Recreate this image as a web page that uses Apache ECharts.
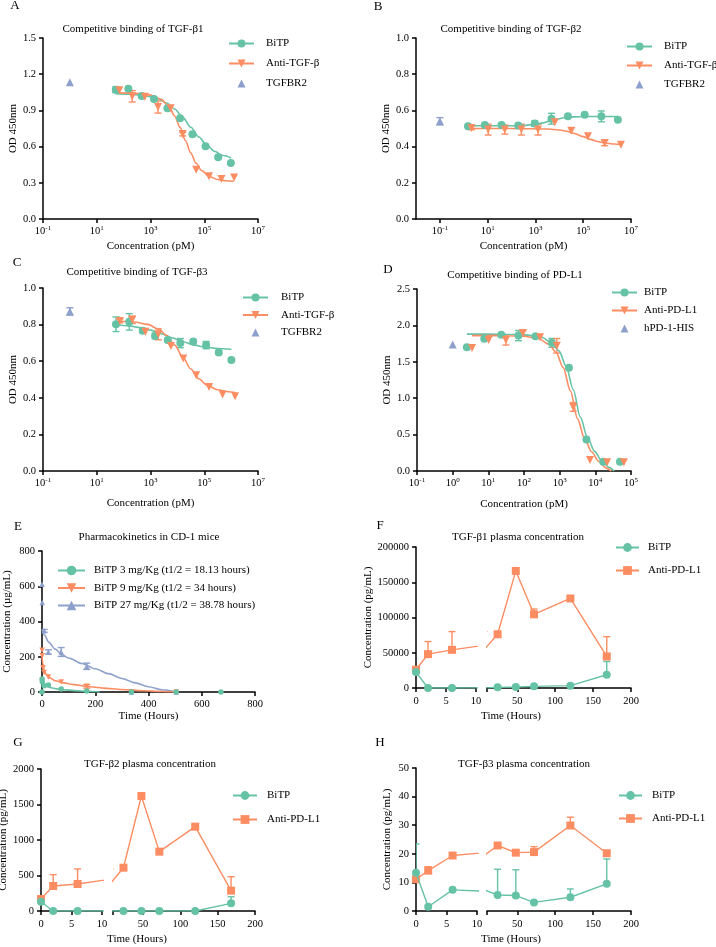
<!DOCTYPE html>
<html>
<head>
<meta charset="utf-8">
<script src="https://cdn.jsdelivr.net/npm/echarts@6/dist/echarts.min.js"></script>
<style>
  html, body { margin: 0; padding: 0; background: #fff; }
  #figure { width: 716px; height: 947px; }
</style>
</head>
<body>
<div id="figure"></div>
<script>
const GREEN = '#66c2a5', ORANGE = '#fc8d62', BLUE = '#8da0cb';
const FONT = 'Liberation Serif';
const DOWN = 'path://M0,0L10,0L5,8.66Z'; // inverted triangle

// ---------- A: TGF-β1 binding (pM vs OD) ----------
const aBitpConc = [51, 150, 470, 1350, 4270, 12600, 36300, 112000, 331000, 977000];
const aBitpOD = [1.072, 1.080, 1.019, 0.994, 0.917, 0.834, 0.702, 0.602, 0.511, 0.464];
const aBitpSD = [0.025, 0, 0, 0, 0, 0, 0, 0, 0.01, 0];
const aAntiConc = [69, 209, 617, 1905, 5620, 15800, 50100, 151000, 437000, 1290000];
const aAntiOD = [1.066, 1.017, 1.014, 0.928, 0.917, 0.704, 0.409, 0.354, 0.331, 0.343];
const aAntiSD = [0, 0.047, 0, 0.05, 0, 0.015, 0, 0, 0, 0];
const aBitpFitConc = [50, 158, 501, 1000, 1995, 3981, 7943, 15850, 31620, 63100, 125900, 251200, 501200, 1000000];
const aBitpFitOD = [1.038, 1.034, 1.025, 1.014, 0.994, 0.961, 0.911, 0.842, 0.760, 0.679, 0.609, 0.559, 0.526, 0.506];
const aAntiFitConc = [69, 200, 631, 1259, 2512, 5012, 7943, 12590, 19950, 31620, 50120, 79430, 158500, 316200, 631000, 1259000];
const aAntiFitOD = [1.045, 1.043, 1.035, 1.022, 0.991, 0.926, 0.854, 0.759, 0.650, 0.546, 0.462, 0.402, 0.350, 0.327, 0.317, 0.313];
const aRecConc = [1], aRecOD = [1.133], aRecSD = [0];

// ---------- B: TGF-β2 binding ----------
const bBitpConc = [1.5, 7.6, 38, 190, 933, 4680, 22900, 115000, 575000, 2820000];
const bBitpOD = [0.512, 0.519, 0.519, 0.516, 0.527, 0.554, 0.567, 0.576, 0.567, 0.549];
const bBitpSD = [0, 0, 0, 0, 0.015, 0.03, 0, 0, 0.03, 0];
const bAntiConc = [2.1, 10.5, 52, 257, 1290, 6460, 31600, 158000, 794000, 3800000];
const bAntiOD = [0.503, 0.494, 0.494, 0.494, 0.494, 0.534, 0.488, 0.457, 0.420, 0.410];
const bAntiSD = [0.01, 0.03, 0.025, 0.03, 0.03, 0, 0, 0, 0.015, 0];
const bBitpFitConc = [1.5, 10, 100, 316, 1000, 1995, 3981, 7943, 15850, 39810, 100000, 316200, 1000000, 2818000];
const bBitpFitOD = [0.515, 0.515, 0.515, 0.517, 0.523, 0.531, 0.541, 0.551, 0.559, 0.564, 0.566, 0.566, 0.566, 0.566];
const bAntiFitConc = [2.1, 100, 3162, 10000, 19950, 39810, 100000, 199500, 398100, 794300, 1995000, 3802000];
const bAntiFitOD = [0.500, 0.500, 0.497, 0.492, 0.485, 0.474, 0.455, 0.440, 0.428, 0.420, 0.414, 0.412];
const bRecConc = [0.1], bRecOD = [0.540], bRecSD = [0.02];

// ---------- C: TGF-β3 binding ----------
const cBitpConc = [52, 162, 513, 1480, 4370, 12900, 38900, 117500, 347000, 1020000];
const cBitpOD = [0.802, 0.815, 0.767, 0.738, 0.716, 0.699, 0.708, 0.688, 0.648, 0.606];
const cBitpSD = [0.04, 0.045, 0.01, 0.015, 0, 0.025, 0, 0.02, 0.01, 0];
const cAntiConc = [72, 209, 646, 1950, 5750, 16600, 50100, 151000, 479000, 1410000];
const cAntiOD = [0.820, 0.826, 0.761, 0.747, 0.683, 0.615, 0.523, 0.459, 0.418, 0.409];
const cAntiSD = [0.01, 0.02, 0, 0.03, 0, 0, 0, 0, 0, 0];
const cBitpFitConc = [52, 158, 398, 1000, 2512, 6310, 15850, 39810, 100000, 316200, 1023000];
const cBitpFitOD = [0.799, 0.793, 0.784, 0.770, 0.750, 0.728, 0.706, 0.689, 0.678, 0.669, 0.665];
const cAntiFitConc = [72, 251, 794, 1995, 3981, 7943, 15850, 31620, 63100, 125900, 316200, 794300, 1413000];
const cAntiFitOD = [0.818, 0.814, 0.801, 0.776, 0.741, 0.688, 0.623, 0.557, 0.504, 0.469, 0.444, 0.433, 0.429];
const cRecConc = [1], cRecOD = [0.872], cRecSD = [0.02];

// ---------- D: PD-L1 binding ----------
const dBitpConc = [2.5, 7.7, 23, 70, 209, 603, 1820, 5620, 16600, 49000];
const dBitpOD = [1.70, 1.818, 1.873, 1.86, 1.85, 1.76, 1.418, 0.432, 0.128, 0.128];
const dBitpSD = [0, 0, 0, 0.07, 0, 0.06, 0, 0, 0, 0];
const dAntiConc = [3.5, 10.2, 31, 93, 282, 832, 2400, 7080, 21400, 63100];
const dAntiOD = [1.69, 1.80, 1.80, 1.895, 1.836, 1.72, 0.88, 0.151, 0.12, 0.12];
const dAntiSD = [0, 0, 0.07, 0.03, 0, 0.1, 0.06, 0, 0, 0];
const dBitpFitConc = [2.5, 10, 31.6, 100, 302, 603, 955, 1514, 2399, 3802, 6026, 9550, 15140, 23990, 33880];
const dBitpFitOD = [1.88, 1.88, 1.878, 1.87, 1.84, 1.76, 1.65, 1.44, 1.12, 0.74, 0.46, 0.27, 0.14, 0.05, 0.0];
const dAntiFitConc = [3.5, 10, 31.6, 100, 251, 501, 794, 1259, 1995, 3162, 5012, 7943, 12590, 19950, 28180];
const dAntiFitOD = [1.86, 1.86, 1.858, 1.85, 1.82, 1.74, 1.63, 1.42, 1.10, 0.72, 0.44, 0.26, 0.13, 0.04, 0.0];
const dRecConc = [1], dRecOD = [1.736], dRecSD = [0];

// ---------- E: pharmacokinetics (hours vs µg/mL) ----------
const e3Time = [0, 0.25, 1, 8, 24, 72, 168, 336, 504, 672];
const e3Conc = [0, 74, 58, 36, 40, 17, 5, 0, 0, 0];
const e9Time = [0.25, 1, 4, 8, 24, 72, 168, 336, 504];
const e9Conc = [237, 205, 138, 110, 85, 57, 32, 0, 0];
const e9SD = [0, 0, 0, 0, 0, 0, 10, 0, 0];
const e27Time = [0.25, 1, 8, 24, 72, 168, 336, 504];
const e27Conc = [612, 508, 347, 227, 227, 146, 0, 0];
const e27SD = [0, 0, 8, 12, 25, 18, 0, 0];
const e3FitTime = [0, 5, 10, 20, 35, 55, 80, 120, 170, 217];
const e3FitConc = [68, 50, 40, 31, 24, 18, 13, 8, 4, 0];
const e9FitTime = [0, 3, 8, 16, 30, 50, 80, 120, 170, 230, 300, 380, 450, 505];
const e9FitConc = [210, 160, 125, 100, 80, 64, 52, 42, 31, 22, 14, 7, 3, 0];
const e27FitTime = [0, 10, 25, 50, 75, 100, 150, 200, 250, 300, 350, 400, 450, 505];
const e27FitConc = [356, 322, 283, 243, 212, 193, 162, 132, 104, 77, 52, 30, 13, 0];

// ---------- F-H: plasma TGF-β (hours vs pg/mL) ----------
const plasmaTime = [0, 2, 6, 24, 48, 72, 120, 168];
const fBitp = [22600, 0, 0, 940, 1400, 2350, 3300, 18800];
const fBitpSD = [0, 0, 0, 0, 0, 0, 0, 18800];
const fAnti = [25900, 48000, 54100, 76200, 166100, 104500, 127000, 44700];
const fAntiSD = [0, 17900, 25900, 0, 0, 7500, 0, 28200];
const gBitp = [131, 0, 0, 0, 0, 0, 0, 108];
const gBitpSD = [0, 0, 0, 0, 0, 0, 0, 92];
const gAnti = [169, 352, 380, 610, 1620, 836, 1188, 287];
const gAntiSD = [0, 160, 212, 0, 0, 0, 0, 197];
const hBitp = [13.4, 1.5, 7.4, 5.6, 5.4, 3.0, 4.8, 9.5];
const hBitpSD = [10, 0, 0, 9, 9, 0, 2.9, 8.7];
const hAnti = [11.1, 14.1, 19.4, 22.9, 20.4, 20.6, 29.9, 20.2];
const hAntiSD = [0, 1.4, 0, 0, 0, 1.9, 2.9, 0];

// ---------------------------------------------------------------
const AXIS_LINE = { color: '#000', width: 1.5 };
const pow10Label = v => '10{s|' + Math.round(Math.log10(v)) + '}';

const option = {
  animation: false,
  backgroundColor: '#fff',
  textStyle: { fontFamily: FONT },
  grid: [], xAxis: [], yAxis: [], legend: [], series: [], graphic: []
};

function zip(xs, ys) { return xs.map((x, i) => [x, ys[i]]); }

function spans(xs, ys, sd, both) {
  const out = [];
  xs.forEach((x, i) => {
    if (sd[i] > 0) out.push([x, both ? ys[i] - sd[i] : ys[i], ys[i] + sd[i]]);
  });
  return out;
}

function valueAxis(min, max, step, o) {
  o = o || {};
  return {
    type: 'value', min: min, max: max, interval: step, show: o.show !== false,
    name: o.name || '', nameLocation: 'middle', nameGap: o.gap || 25,
    nameTextStyle: { color: '#000', fontFamily: FONT, fontSize: 11 },
    splitLine: { show: false },
    axisLine: { show: true, onZero: false, lineStyle: AXIS_LINE },
    axisTick: { show: true, length: 4, lineStyle: AXIS_LINE, customValues: o.ticks },
    axisLabel: { color: '#000', fontFamily: FONT, fontSize: 10.5, margin: o.margin || 7,
      formatter: o.fmt || (v => String(v)), customValues: o.labels }
  };
}

function logAxis(min, max, ticks, gap) {
  return {
    type: 'log', logBase: 10, min: min, max: max,
    name: 'Concentration (pM)', nameLocation: 'middle', nameGap: gap,
    nameTextStyle: { color: '#000', fontFamily: FONT, fontSize: 11 },
    splitLine: { show: false }, minorTick: { show: false },
    axisLine: { show: true, onZero: false, lineStyle: AXIS_LINE },
    axisTick: { show: true, length: 4, lineStyle: AXIS_LINE, customValues: ticks },
    axisLabel: { color: '#000', fontFamily: FONT, fontSize: 10.5, margin: 6, customValues: ticks, formatter: pow10Label,
      rich: { s: { fontSize: 7, fontFamily: FONT, color: '#000', verticalAlign: 'top', padding: [0, 0, 5, 0] } } }
  };
}

function addGrid(rect, x, y) {
  const i = option.grid.length;
  option.grid.push(Object.assign({ containLabel: false, outerBoundsMode: 'none' }, rect));
  option.xAxis.push(Object.assign({ gridIndex: i }, x));
  option.yAxis.push(Object.assign({ gridIndex: i }, y));
  return i;
}

function errorBars(g, data, color, both) {
  return {
    type: 'custom', xAxisIndex: g, yAxisIndex: g, data: data, clip: true, silent: true, z: 1,
    encode: { x: 0, y: [1, 2] },
    renderItem: (params, api) => {
      const lo = api.coord([api.value(0), api.value(1)]);
      const hi = api.coord([api.value(0), api.value(2)]);
      const style = { stroke: color, lineWidth: 1.4 };
      const kids = [
        { type: 'line', shape: { x1: lo[0], y1: lo[1], x2: hi[0], y2: hi[1] }, style: style },
        { type: 'line', shape: { x1: hi[0] - 3.5, y1: hi[1], x2: hi[0] + 3.5, y2: hi[1] }, style: style }
      ];
      if (both) kids.push({ type: 'line', shape: { x1: lo[0] - 3.5, y1: lo[1], x2: lo[0] + 3.5, y2: lo[1] }, style: style });
      return { type: 'group', children: kids };
    }
  };
}

function fitLine(name, g, xs, ys, color, symbol) {
  return {
    name: name, type: 'line', xAxisIndex: g, yAxisIndex: g, data: zip(xs, ys),
    smooth: 0.3, smoothMonotone: 'x', symbol: symbol, showSymbol: false, silent: true, z: 2,
    lineStyle: { color: color, width: 1.6 }, itemStyle: { color: color }
  };
}

function dots(name, g, xs, ys, color, symbol, size) {
  return {
    name: name, type: 'scatter', xAxisIndex: g, yAxisIndex: g, data: zip(xs, ys),
    symbol: symbol, symbolSize: size, silent: true, z: 3,
    itemStyle: { color: color, opacity: 1 }
  };
}

// marker-only series drawn as an invisible line so its legend icon keeps its shape
function markerOnly(name, g, xs, ys, color, symbol, size) {
  return {
    name: name, type: 'line', xAxisIndex: g, yAxisIndex: g, data: zip(xs, ys),
    symbol: symbol, symbolSize: size, showSymbol: true, silent: true, z: 3,
    lineStyle: { opacity: 0 }, itemStyle: { color: color, opacity: 1 }
  };
}

function addLegend(names, l) {
  option.legend.push({
    data: names, left: l.left, top: l.top, orient: 'vertical', padding: 0,
    itemWidth: l.w || 25, itemHeight: l.h || 10, itemGap: l.gap, selectedMode: false,
    formatter: n => n.split('#')[0],
    textStyle: { color: '#000', fontFamily: FONT, fontSize: 11, padding: [0, 0, 0, l.pad] }
  });
}

function addText(text, x, y, size) {
  option.graphic.push({
    type: 'text', x: x, y: y, silent: true,
    style: { text: text, fill: '#000', font: size + 'px "' + FONT + '"', textAlign: 'center', textVerticalAlign: 'middle' }
  });
}

// competitive binding panels (A-D)
function bindingPanel(key, lay, xr, xTicks, yr, groups, rec) {
  const g = addGrid(lay.grid, logAxis(xr[0], xr[1], xTicks, lay.xGap),
    valueAxis(yr[0], yr[1], yr[2], { name: 'OD 450nm', gap: lay.yGap, fmt: v => v.toFixed(1) }));
  const names = [];
  groups.forEach(s => {
    const name = s.label + '#' + key;
    names.push(name);
    option.series.push(
      errorBars(g, spans(s.conc, s.od, s.sd, true), s.color, true),
      fitLine(name, g, s.fitConc, s.fitOD, s.color, s.symbol),
      dots(name + '-pts', g, s.conc, s.od, s.color, s.symbol, 8)
    );
  });
  const recName = rec.label + '#' + key;
  names.push(recName);
  option.series.push(
    errorBars(g, spans(rec.conc, rec.od, rec.sd, true), BLUE, true),
    markerOnly(recName, g, rec.conc, rec.od, BLUE, 'triangle', 8)
  );
  addLegend(names, lay.legend);
}

bindingPanel('A', { grid: { left: 43, top: 38, width: 215, height: 181 }, xGap: 22, yGap: 22,
    legend: { left: 228, top: 38, gap: 9, pad: 7 } },
  [0.1, 1e7], [0.1, 10, 1e3, 1e5, 1e7], [0, 1.5, 0.3],
  [{ label: 'BiTP', color: GREEN, symbol: 'circle', conc: aBitpConc, od: aBitpOD, sd: aBitpSD, fitConc: aBitpFitConc, fitOD: aBitpFitOD },
   { label: 'Anti-TGF-\u03b2', color: ORANGE, symbol: DOWN, conc: aAntiConc, od: aAntiOD, sd: aAntiSD, fitConc: aAntiFitConc, fitOD: aAntiFitOD }],
  { label: 'TGFBR2', conc: aRecConc, od: aRecOD, sd: aRecSD });

bindingPanel('B', { grid: { left: 416, top: 38, width: 215, height: 181 }, xGap: 22, yGap: 19,
    legend: { left: 626, top: 41, gap: 8, pad: 7 } },
  [0.01, 1e7], [0.1, 10, 1e3, 1e5, 1e7], [0, 1, 0.2],
  [{ label: 'BiTP', color: GREEN, symbol: 'circle', conc: bBitpConc, od: bBitpOD, sd: bBitpSD, fitConc: bBitpFitConc, fitOD: bBitpFitOD },
   { label: 'Anti-TGF-\u03b2', color: ORANGE, symbol: DOWN, conc: bAntiConc, od: bAntiOD, sd: bAntiSD, fitConc: bAntiFitConc, fitOD: bAntiFitOD }],
  { label: 'TGFBR2', conc: bRecConc, od: bRecOD, sd: bRecSD });

bindingPanel('C', { grid: { left: 43, top: 288, width: 215, height: 183 }, xGap: 27, yGap: 22,
    legend: { left: 242, top: 292, gap: 6.5, pad: 8 } },
  [0.1, 1e7], [0.1, 10, 1e3, 1e5, 1e7], [0, 1, 0.2],
  [{ label: 'BiTP', color: GREEN, symbol: 'circle', conc: cBitpConc, od: cBitpOD, sd: cBitpSD, fitConc: cBitpFitConc, fitOD: cBitpFitOD },
   { label: 'Anti-TGF-\u03b2', color: ORANGE, symbol: DOWN, conc: cAntiConc, od: cAntiOD, sd: cAntiSD, fitConc: cAntiFitConc, fitOD: cAntiFitOD }],
  { label: 'TGFBR2', conc: cRecConc, od: cRecOD, sd: cRecSD });

bindingPanel('D', { grid: { left: 417, top: 289, width: 214, height: 182 }, xGap: 28, yGap: 24,
    legend: { left: 611, top: 287, gap: 7, pad: 2 } },
  [0.1, 1e5], [0.1, 1, 10, 100, 1e3, 1e4, 1e5], [0, 2.5, 0.5],
  [{ label: 'BiTP', color: GREEN, symbol: 'circle', conc: dBitpConc, od: dBitpOD, sd: dBitpSD, fitConc: dBitpFitConc, fitOD: dBitpFitOD },
   { label: 'Anti-PD-L1', color: ORANGE, symbol: DOWN, conc: dAntiConc, od: dAntiOD, sd: dAntiSD, fitConc: dAntiFitConc, fitOD: dAntiFitOD }],
  { label: 'hPD-1-HIS', conc: dRecConc, od: dRecOD, sd: dRecSD });

// pharmacokinetics panel (E)
(function () {
  const g = addGrid({ left: 42, top: 551, width: 213, height: 141 },
    valueAxis(0, 800, 200, { name: 'Time (Hours)', gap: 17 }),
    valueAxis(0, 800, 200, { name: 'Concentration (\u00b5g/mL)', gap: 29 }));
  const doses = [
    { label: 'BiTP 3 mg/Kg (t1/2 = 18.13 hours)', color: GREEN, symbol: 'circle', t: e3Time, c: e3Conc, sd: e3Time.map(() => 0), ft: e3FitTime, fc: e3FitConc },
    { label: 'BiTP 9 mg/Kg (t1/2 = 34 hours)', color: ORANGE, symbol: DOWN, t: e9Time, c: e9Conc, sd: e9SD, ft: e9FitTime, fc: e9FitConc },
    { label: 'BiTP 27 mg/Kg (t1/2 = 38.78 hours)', color: BLUE, symbol: 'triangle', t: e27Time, c: e27Conc, sd: e27SD, ft: e27FitTime, fc: e27FitConc }
  ];
  const names = [];
  doses.slice().reverse().forEach(d => {
    const name = d.label + '#E';
    names.unshift(name);
    option.series.push(
      errorBars(g, spans(d.t, d.c, d.sd, true), d.color, true),
      fitLine(name, g, d.ft, d.fc, d.color, d.symbol),
      dots(name + '-pts', g, d.t, d.c, d.color, d.symbol, 5.5)
    );
  });
  addLegend(names, { left: 57, top: 565, w: 27, h: 12, gap: 6.5, pad: 4 });
})();

// plasma concentration panels with broken time axis (F-H)
function plasmaPanel(key, lay, yr, groups) {
  const yName = 'Concentration (pg/mL)';
  const gL = addGrid({ left: lay.left, top: lay.top, width: lay.leftW, height: lay.height },
    valueAxis(0, 10, 5, { margin: 8 }),
    valueAxis(yr[0], yr[1], yr[2], { name: yName, gap: lay.yGap }));
  const gR = addGrid({ left: lay.rightX, top: lay.top, width: lay.rightW, height: lay.height },
    valueAxis(10, 200, 50, { margin: 8, ticks: [10, 50, 100, 150, 200], labels: [50, 100, 150, 200] }),
    valueAxis(yr[0], yr[1], yr[2], { show: false }));
  const names = [];
  groups.forEach(s => {
    names.push(s.label + '#' + key);
    [gL, gR].forEach((g, k) => {
      option.series.push(errorBars(g, spans(plasmaTime, s.values, s.sd, false), s.color, false));
      option.series.push({
        name: s.label + '#' + key + (k ? '-right' : ''), type: 'line', xAxisIndex: g, yAxisIndex: g,
        data: zip(plasmaTime, s.values), clip: true, symbol: s.symbol, symbolSize: 8, showSymbol: true,
        silent: true, z: s.z, lineStyle: { color: s.color, width: 1.4 }, itemStyle: { color: s.color, opacity: 1 }
      });
    });
  });
  addLegend(names, lay.legend);
  addText('Time (Hours)', lay.nameX, lay.nameY, 11);
}

plasmaPanel('F', { left: 416, top: 547, height: 141, leftW: 60, rightX: 487, rightW: 144, yGap: 42,
    nameX: 511, nameY: 716, legend: { left: 615, top: 542, w: 23, h: 11, gap: 12, pad: 4 } },
  [0, 200000, 50000],
  [{ label: 'BiTP', color: GREEN, symbol: 'circle', values: fBitp, sd: fBitpSD, z: 4 },
   { label: 'Anti-PD-L1', color: ORANGE, symbol: 'rect', values: fAnti, sd: fAntiSD, z: 3 }]);

plasmaPanel('G', { left: 41, top: 769, height: 142, leftW: 61, rightX: 113, rightW: 142, yGap: 29,
    nameX: 137, nameY: 939, legend: { left: 232, top: 790, w: 24, h: 11, gap: 13, pad: 5 } },
  [0, 2000, 500],
  [{ label: 'BiTP', color: GREEN, symbol: 'circle', values: gBitp, sd: gBitpSD, z: 4 },
   { label: 'Anti-PD-L1', color: ORANGE, symbol: 'rect', values: gAnti, sd: gAntiSD, z: 3 }]);

plasmaPanel('H', { left: 416, top: 768, height: 143, leftW: 61, rightX: 487, rightW: 144, yGap: 23,
    nameX: 511, nameY: 939, legend: { left: 618, top: 790, w: 23, h: 11, gap: 12, pad: 5 } },
  [0, 50, 10],
  [{ label: 'BiTP', color: GREEN, symbol: 'circle', values: hBitp, sd: hBitpSD, z: 4 },
   { label: 'Anti-PD-L1', color: ORANGE, symbol: 'rect', values: hAnti, sd: hAntiSD, z: 3 }]);

// panel titles and letters
const panelTitles = [
  ['Competitive binding of TGF-\u03b21', 133, 29], ['Competitive binding of TGF-\u03b22', 511, 29],
  ['Competitive binding of TGF-\u03b23', 137, 272], ['Competitive binding of PD-L1', 515, 275],
  ['Pharmacokinetics in CD-1 mice', 149, 537], ['TGF-\u03b21 plasma concentration', 518, 537],
  ['TGF-\u03b22 plasma concentration', 150, 764], ['TGF-\u03b23 plasma concentration', 524, 764]
];
const panelLetters = [
  ['A', 15, 6], ['B', 378, 7], ['C', 17, 263], ['D', 388, 270],
  ['E', 18, 527], ['F', 380, 526], ['G', 18, 743], ['H', 380, 743]
];
panelTitles.forEach(t => addText(t[0], t[1], t[2], 11));
panelLetters.forEach(t => addText(t[0], t[1], t[2], 13));

const chart = echarts.init(document.getElementById('figure'), null, { renderer: 'canvas' });
chart.setOption(option);
</script>
</body>
</html>
